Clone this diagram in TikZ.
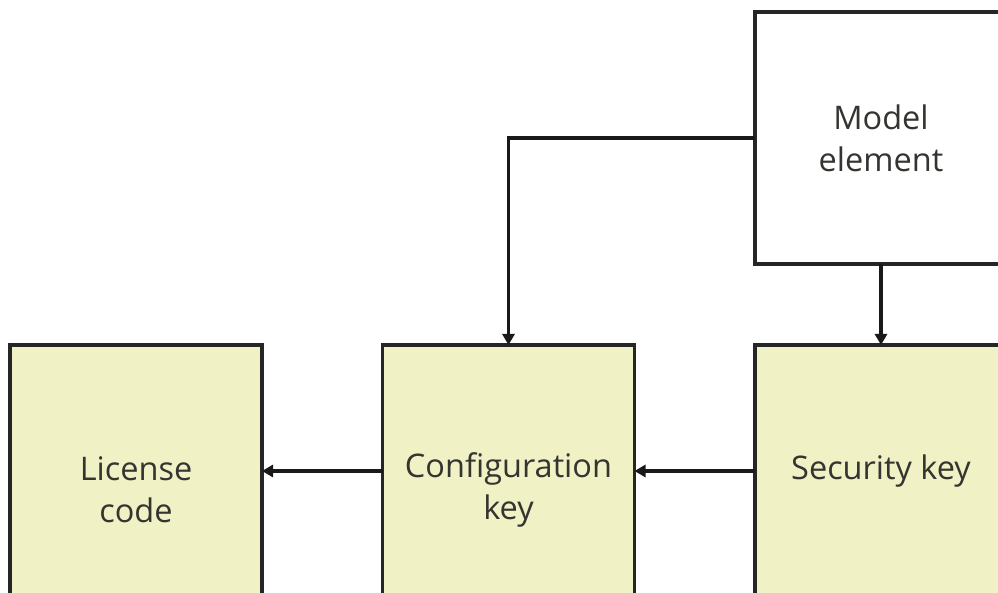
\documentclass[tikz,border=0pt]{standalone}
\usepackage{fontspec}
\setmainfont{Open Sans}
\usetikzlibrary{arrows.meta}
\definecolor{keyfill}{RGB}{240,241,197}
\definecolor{inkgrey}{RGB}{52,52,48}
\tikzset{
  box/.style={draw=black!85, line width=3.4pt, minimum width=252pt, minimum height=252pt,
              inner sep=0pt, outer sep=0pt},
  keybox/.style={box, fill=keyfill},
  plainbox/.style={box, fill=white},
  label/.style={font=\fontsize{32.5}{42}\selectfont, text=inkgrey, align=center, inner sep=0pt},
  link/.style={draw=black!90, line width=3.2pt, -{Triangle[length=11pt,width=12pt]}},
}
\begin{document}
\begin{tikzpicture}[x=1pt,y=-1pt]
  \useasboundingbox (0,0) rectangle (998,593);
  \clip (0,0) rectangle (998,593);
  \fill[white] (0,0) rectangle (998,593);

  % boxes (right and lower edges run off the page)
  \node[plainbox] (model)    at (881,138) {};
  \node[keybox]   (license)  at (136,471) {};
  \node[keybox]   (config)   at (508.5,471) {};
  \node[keybox]   (security) at (881,471) {};

  % box texts
  \node[label] (modeltxt)    at (model.center)                 {Model\\element};
  \node[label] (licensetxt)  at ([yshift=-19pt]license.center) {License\\code};
  \node[label] (configtxt)   at ([yshift=-19pt]config.center)  {Configuration\\key};
  \node[label] (securitytxt) at (security.center)              {Security key};

  % connectors
  \draw[link] (model.west) -| (config.north);
  \draw[link] (model.south) -- (security.north);
  \draw[link] (security.west) -- (config.east);
  \draw[link] (config.west) -- (license.east);
\end{tikzpicture}
\end{document}
